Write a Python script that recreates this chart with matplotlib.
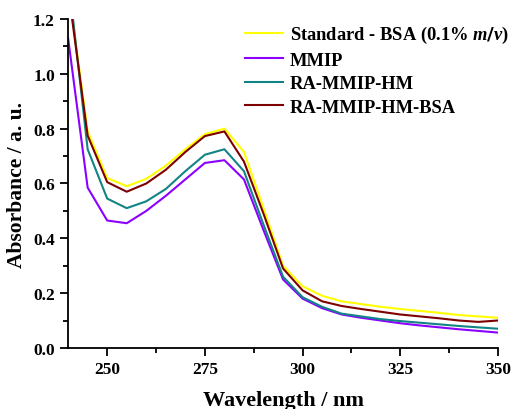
import matplotlib
matplotlib.use("Agg")
import matplotlib.pyplot as plt
import numpy as np
from matplotlib.ticker import MultipleLocator

plt.rcParams["font.family"] = "Liberation Serif"
plt.rcParams["font.weight"] = "bold"
plt.rcParams["mathtext.fontset"] = "custom"
plt.rcParams["mathtext.it"] = "Liberation Serif:italic:bold"
plt.rcParams["mathtext.bfit"] = "Liberation Serif:italic:bold"

wavelength = np.arange(240, 351, 5)

standard_bsa = [1.32, 0.79, 0.62, 0.59, 0.617, 0.665, 0.725, 0.78, 0.80, 0.715, 0.51, 0.30, 0.225,
                0.19, 0.17, 0.16, 0.15, 0.142, 0.135, 0.128, 0.12, 0.115, 0.11]
mmip = [1.13, 0.585, 0.465, 0.455, 0.50, 0.555, 0.615, 0.675, 0.685, 0.615, 0.43, 0.25, 0.18,
        0.145, 0.122, 0.11, 0.1, 0.09, 0.082, 0.075, 0.068, 0.062, 0.056]
ra_mmip_hm = [1.36, 0.725, 0.545, 0.51, 0.535, 0.58, 0.645, 0.705, 0.725, 0.645, 0.45, 0.26, 0.185,
              0.15, 0.125, 0.115, 0.105, 0.098, 0.092, 0.086, 0.08, 0.075, 0.07]
ra_mmip_hm_bsa = [1.31, 0.775, 0.605, 0.57, 0.60, 0.65, 0.715, 0.773, 0.79, 0.68, 0.49, 0.29, 0.21,
                  0.17, 0.153, 0.142, 0.132, 0.122, 0.115, 0.108, 0.1, 0.095, 0.10]

series = [
    (standard_bsa, "#FFFF00", r"Standard - BSA (0.1% $m/v$)"),
    (mmip, "#8B00FF", "MMIP"),
    (ra_mmip_hm, "#138484", "RA-MMIP-HM"),
    (ra_mmip_hm_bsa, "#7F0000", "RA-MMIP-HM-BSA"),
]

fig, ax = plt.subplots(figsize=(5.16, 4.10), dpi=100)
fig.subplots_adjust(left=0.132, right=0.965, top=0.951, bottom=0.149)

for values, colour, label in series:
    ax.plot(wavelength, values, color=colour, linewidth=1.5, label=label)

ax.set_xlim(240, 350)
ax.set_ylim(0.0, 1.2)
ax.xaxis.set_major_locator(MultipleLocator(25))
ax.xaxis.set_minor_locator(MultipleLocator(12.5))
ax.yaxis.set_major_locator(MultipleLocator(0.2))
ax.yaxis.set_minor_locator(MultipleLocator(0.1))
ax.yaxis.set_major_formatter(matplotlib.ticker.FormatStrFormatter("%.1f"))

for side in ("top", "right"):
    ax.spines[side].set_visible(False)
for side in ("left", "bottom"):
    ax.spines[side].set_linewidth(1.3)

ax.tick_params(which="major", direction="out", length=6, width=1.3, labelsize=12.5)
ax.tick_params(which="minor", direction="out", length=3.5, width=1.3)

ax.set_xlabel("Wavelength / nm", fontsize=16, fontweight="bold", labelpad=9)
ax.set_ylabel("Absorbance / a. u.", fontsize=15.5, fontweight="bold", labelpad=4)

ax.legend(loc="upper left", bbox_to_anchor=(0.461, 0.957), bbox_transform=fig.transFigure,
          frameon=False, fontsize=13.3, handlelength=2.05, handletextpad=0.38,
          labelspacing=0.35, borderaxespad=0.0, borderpad=0.4)

fig.savefig("out.png", dpi=100)
